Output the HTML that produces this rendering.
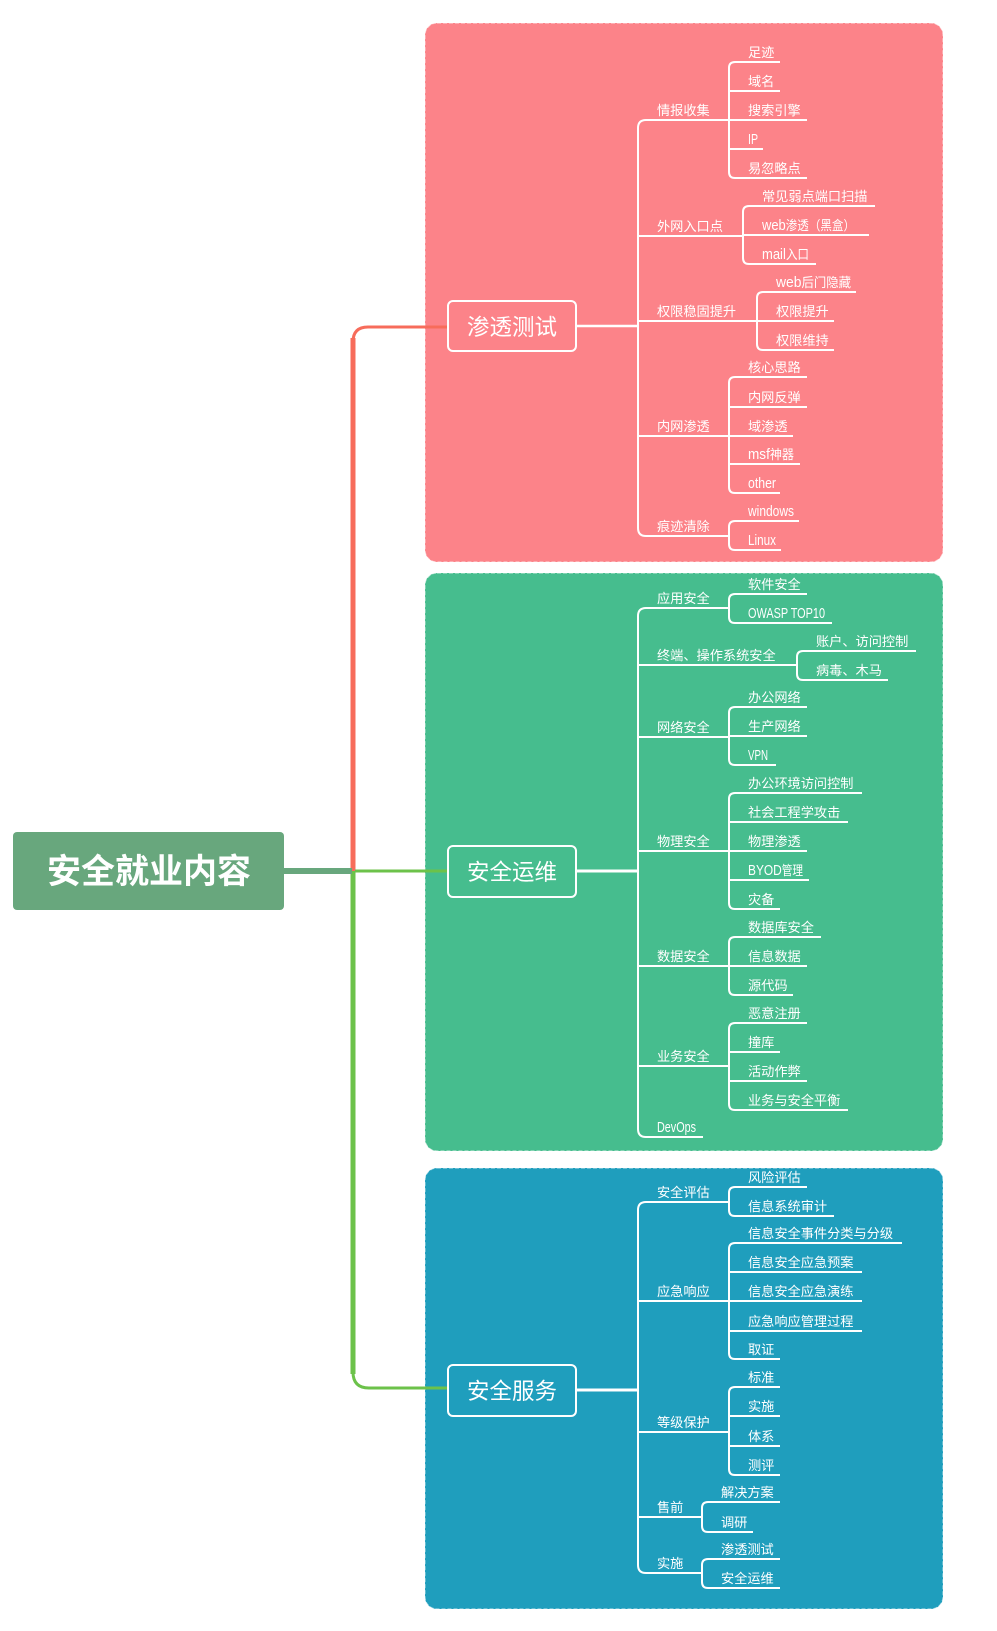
<!DOCTYPE html>
<html>
<head>
<meta charset="utf-8">
<style>
html,body{margin:0;padding:0;background:#fff;}
svg{display:block;}
text{font-family:"Liberation Sans","Noto Sans CJK SC",sans-serif;fill:#fff;}
.t{font-size:13.2px;}
.l{font-size:14.8px;font-weight:500;}
</style>
</head>
<body>
<svg width="997" height="1631" viewBox="0 0 997 1631" xmlns="http://www.w3.org/2000/svg">
<!-- section backgrounds -->
<rect x="425" y="23" width="518" height="539" rx="12" fill="#fc8389" stroke="#fff" stroke-opacity="0.55" stroke-width="1.2" stroke-dasharray="4 2"/>
<rect x="425" y="573" width="518" height="578" rx="12" fill="#46bd8e" stroke="#fff" stroke-opacity="0.55" stroke-width="1.2" stroke-dasharray="4 2"/>
<rect x="425" y="1168" width="518" height="441" rx="12" fill="#1f9ebd" stroke="#fff" stroke-opacity="0.55" stroke-width="1.2" stroke-dasharray="4 2"/>

<!-- trunk -->
<path d="M353 871 V338" stroke="#f76c5b" stroke-width="5" fill="none"/>
<path d="M353 342 Q353 327 368 327 H447" stroke="#f76c5b" stroke-width="3" fill="none"/>
<path d="M353 871 V1374" stroke="#6cc24a" stroke-width="5" fill="none"/>
<path d="M353 1372 Q353 1388 369 1388 H447" stroke="#6cc24a" stroke-width="3" fill="none"/>
<path d="M355 871 H447" stroke="#6cc24a" stroke-width="3" fill="none"/>
<path d="M284 871 H352" stroke="#68a77d" stroke-width="6" fill="none"/>

<!-- root -->
<rect x="13" y="832" width="271" height="78" rx="4" fill="#68a77d"/>
<text x="149" y="883" text-anchor="middle" style="font-size:34px;font-weight:bold;">安全就业内容</text>

<!-- L1 boxes -->
<rect x="448" y="301" width="128" height="50" rx="5" fill="#fc8389" stroke="#fff" stroke-width="2"/>
<text x="512" y="335" text-anchor="middle" style="font-size:22.5px;">渗透测试</text>
<rect x="448" y="846" width="128" height="51" rx="5" fill="#46bd8e" stroke="#fff" stroke-width="2"/>
<text x="512" y="880" text-anchor="middle" style="font-size:22.5px;">安全运维</text>
<rect x="448" y="1365" width="128" height="51" rx="5" fill="#1f9ebd" stroke="#fff" stroke-width="2"/>
<text x="512" y="1399" text-anchor="middle" style="font-size:22.5px;">安全服务</text>

<!-- L1 -> L2 connectors -->
<path d="M577 326 H638" stroke="#fff" stroke-width="2.5" fill="none"/>
<path d="M577 871 H638" stroke="#fff" stroke-width="3" fill="none"/>
<path d="M577 1390 H638" stroke="#fff" stroke-width="3" fill="none"/>

<!-- white tree lines -->
<g stroke="#fff" stroke-width="2" fill="none">
<!-- PINK -->
<path d="M646 120 Q638 120 638 128 V528 Q638 536 646 536"/>
<path d="M646 120 H729 M638 236 H743 M638 321 H757 M638 436 H729 M646 536 H729"/>
<path d="M735 62 Q729 62 729 68 V172 Q729 178 735 178"/>
<path d="M735 62 H780 M729 91 H780 M729 120 H807 M729 149 H763 M735 178 H807"/>
<path d="M749 206 Q743 206 743 212 V258 Q743 264 749 264"/>
<path d="M749 206 H875 M743 235 H869 M749 264 H816"/>
<path d="M763 292 Q757 292 757 298 V344 Q757 350 763 350"/>
<path d="M763 292 H856 M757 321 H834 M763 350 H834"/>
<path d="M735 377 Q729 377 729 383 V487 Q729 493 735 493"/>
<path d="M735 377 H807 M729 407 H807 M729 436 H793 M729 464 H800 M735 493 H780"/>
<path d="M735 521 Q729 521 729 527 V544 Q729 550 735 550"/>
<path d="M735 521 H799 M735 550 H781"/>
<!-- GREEN -->
<path d="M646 608 Q638 608 638 616 V1129 Q638 1137 646 1137"/>
<path d="M646 608 H729 M638 665 H797 M638 737 H729 M638 851 H729 M638 966 H729 M638 1066 H729 M646 1137 H703"/>
<path d="M735 594 Q729 594 729 600 V617 Q729 623 735 623"/>
<path d="M735 594 H807 M735 623 H832"/>
<path d="M803 651 Q797 651 797 657 V674 Q797 680 803 680"/>
<path d="M803 651 H916 M803 680 H888"/>
<path d="M735 707 Q729 707 729 713 V759 Q729 765 735 765"/>
<path d="M735 707 H807 M729 736 H807 M735 765 H776"/>
<path d="M735 793 Q729 793 729 799 V903 Q729 909 735 909"/>
<path d="M735 793 H862 M729 822 H848 M729 851 H807 M729 880 H809 M735 909 H780"/>
<path d="M735 937 Q729 937 729 943 V989 Q729 995 735 995"/>
<path d="M735 937 H821 M729 966 H807 M735 995 H793"/>
<path d="M735 1023 Q729 1023 729 1029 V1104 Q729 1110 735 1110"/>
<path d="M735 1023 H807 M729 1052 H780 M729 1081 H807 M735 1110 H848"/>
<!-- BLUE -->
<path d="M646 1202 Q638 1202 638 1210 V1565 Q638 1573 646 1573"/>
<path d="M646 1202 H729 M638 1301 H729 M638 1432 H729 M638 1517 H702 M646 1573 H702"/>
<path d="M735 1187 Q729 1187 729 1193 V1210 Q729 1216 735 1216"/>
<path d="M735 1187 H807 M735 1216 H834"/>
<path d="M735 1243 Q729 1243 729 1249 V1353 Q729 1359 735 1359"/>
<path d="M735 1243 H902 M729 1272 H862 M729 1301 H862 M729 1331 H862 M735 1359 H780"/>
<path d="M735 1387 Q729 1387 729 1393 V1469 Q729 1475 735 1475"/>
<path d="M735 1387 H780 M729 1416 H780 M729 1446 H780 M735 1475 H780"/>
<path d="M708 1502 Q702 1502 702 1508 V1526 Q702 1532 708 1532"/>
<path d="M708 1502 H780 M708 1532 H753"/>
<path d="M708 1559 Q702 1559 702 1565 V1582 Q702 1588 708 1588"/>
<path d="M708 1559 H780 M708 1588 H780"/>
</g>

<!-- PINK labels -->
<text class="t" x="657" y="115">情报收集</text>
<text class="t" x="657" y="231">外网入口点</text>
<text class="t" x="657" y="316">权限稳固提升</text>
<text class="t" x="657" y="431">内网渗透</text>
<text class="t" x="657" y="531">痕迹清除</text>

<text class="t" x="748" y="57">足迹</text>
<text class="t" x="748" y="86">域名</text>
<text class="t" x="748" y="115">搜索引擎</text>
<text class="t l" x="748" y="144" textLength="10" lengthAdjust="spacingAndGlyphs">IP</text>
<text class="t" x="748" y="173">易忽略点</text>

<text class="t" x="762" y="201">常见弱点端口扫描</text>
<text class="t" x="762" y="230" textLength="93" lengthAdjust="spacingAndGlyphs"><tspan class="l">web</tspan>渗透（黑盒）</text>
<text class="t" x="762" y="259" textLength="47" lengthAdjust="spacingAndGlyphs"><tspan class="l">mail</tspan>入口</text>

<text class="t" x="776" y="287" textLength="75" lengthAdjust="spacingAndGlyphs"><tspan class="l">web</tspan>后门隐藏</text>
<text class="t" x="776" y="316">权限提升</text>
<text class="t" x="776" y="345">权限维持</text>

<text class="t" x="748" y="372">核心思路</text>
<text class="t" x="748" y="402">内网反弹</text>
<text class="t" x="748" y="431">域渗透</text>
<text class="t" x="748" y="459" textLength="46" lengthAdjust="spacingAndGlyphs"><tspan class="l">msf</tspan>神器</text>
<text class="t l" x="748" y="488" textLength="28" lengthAdjust="spacingAndGlyphs">other</text>

<text class="t l" x="748" y="516" textLength="46" lengthAdjust="spacingAndGlyphs">windows</text>
<text class="t l" x="748" y="545" textLength="28" lengthAdjust="spacingAndGlyphs">Linux</text>

<!-- GREEN labels -->
<text class="t" x="657" y="603">应用安全</text>
<text class="t" x="657" y="660">终端、操作系统安全</text>
<text class="t" x="657" y="732">网络安全</text>
<text class="t" x="657" y="846">物理安全</text>
<text class="t" x="657" y="961">数据安全</text>
<text class="t" x="657" y="1061">业务安全</text>
<text class="t l" x="657" y="1132" textLength="39" lengthAdjust="spacingAndGlyphs">DevOps</text>

<text class="t" x="748" y="589">软件安全</text>
<text class="t l" x="748" y="618" textLength="77" lengthAdjust="spacingAndGlyphs">OWASP TOP10</text>
<text class="t" x="816" y="646">账户、访问控制</text>
<text class="t" x="816" y="675">病毒、木马</text>
<text class="t" x="748" y="702">办公网络</text>
<text class="t" x="748" y="731">生产网络</text>
<text class="t l" x="748" y="760" textLength="20" lengthAdjust="spacingAndGlyphs">VPN</text>
<text class="t" x="748" y="788">办公环境访问控制</text>
<text class="t" x="748" y="817">社会工程学攻击</text>
<text class="t" x="748" y="846">物理渗透</text>
<text class="t" x="748" y="875" textLength="55" lengthAdjust="spacingAndGlyphs"><tspan class="l">BYOD</tspan>管理</text>
<text class="t" x="748" y="904">灾备</text>
<text class="t" x="748" y="932">数据库安全</text>
<text class="t" x="748" y="961">信息数据</text>
<text class="t" x="748" y="990">源代码</text>
<text class="t" x="748" y="1018">恶意注册</text>
<text class="t" x="748" y="1047">撞库</text>
<text class="t" x="748" y="1076">活动作弊</text>
<text class="t" x="748" y="1105">业务与安全平衡</text>

<!-- BLUE labels -->
<text class="t" x="657" y="1197">安全评估</text>
<text class="t" x="657" y="1296">应急响应</text>
<text class="t" x="657" y="1427">等级保护</text>
<text class="t" x="657" y="1512">售前</text>
<text class="t" x="657" y="1568">实施</text>

<text class="t" x="748" y="1182">风险评估</text>
<text class="t" x="748" y="1211">信息系统审计</text>
<text class="t" x="748" y="1238">信息安全事件分类与分级</text>
<text class="t" x="748" y="1267">信息安全应急预案</text>
<text class="t" x="748" y="1296">信息安全应急演练</text>
<text class="t" x="748" y="1326">应急响应管理过程</text>
<text class="t" x="748" y="1354">取证</text>
<text class="t" x="748" y="1382">标准</text>
<text class="t" x="748" y="1411">实施</text>
<text class="t" x="748" y="1441">体系</text>
<text class="t" x="748" y="1470">测评</text>
<text class="t" x="721" y="1497">解决方案</text>
<text class="t" x="721" y="1527">调研</text>
<text class="t" x="721" y="1554">渗透测试</text>
<text class="t" x="721" y="1583">安全运维</text>
</svg>
</body>
</html>
